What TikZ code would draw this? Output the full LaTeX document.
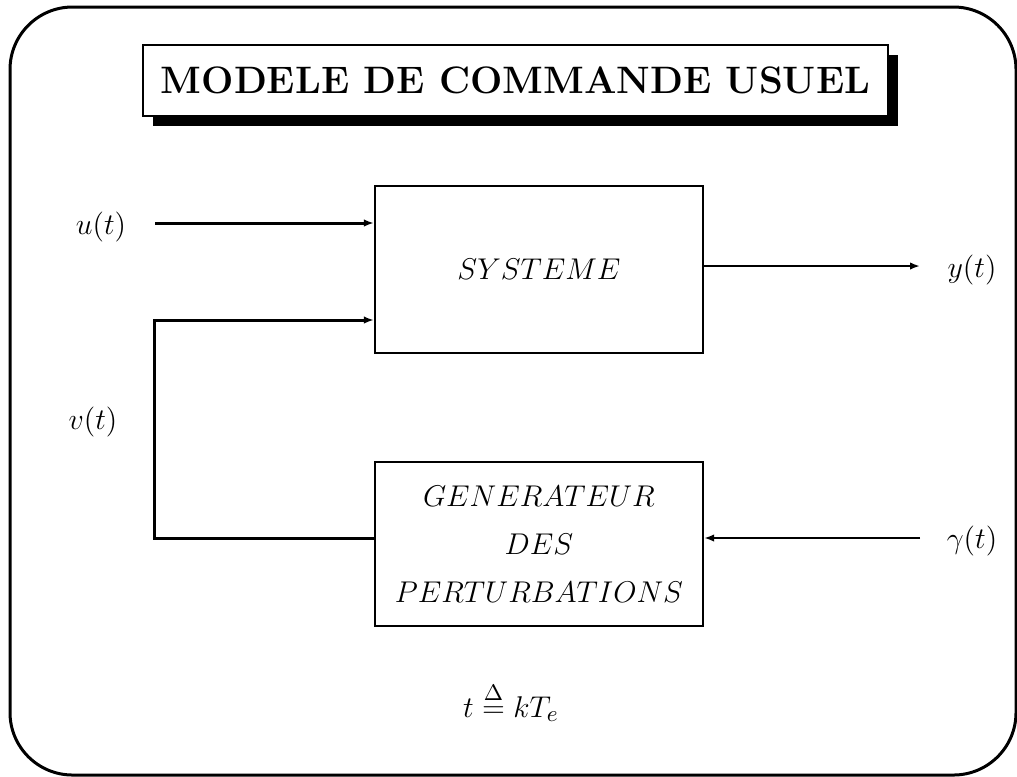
\documentclass[tikz,border=0pt]{standalone}
\usepackage{amsmath}
\usetikzlibrary{arrows.meta,shadows}
\begin{document}
\begin{tikzpicture}[x=0.4pt,y=-0.4pt,
  block/.style={draw,line width=0.9pt,minimum width=131.2pt,inner sep=0pt,
    font=\fontsize{12}{19.2}\selectfont,align=center},
  lbl/.style={inner sep=0pt,font=\fontsize{12.8}{14}\selectfont},
  sig/.style={line width=0.8pt,-{Latex[length=4pt,width=3pt]}},
  sigthick/.style={line width=1.2pt,-{Latex[length=4pt,width=3pt]}},
  plain/.style={line width=0.8pt}]
\useasboundingbox (0,0) rectangle (1017,776);
\clip (0,0) rectangle (1017,776);

% outer frame
\draw[line width=1.2pt,rounded corners=25pt] (10,7) rectangle (1016,775);

% title with black drop shadow
\node[draw,line width=0.9pt,fill=white,minimum width=298pt,minimum height=28.4pt,
  inner sep=0pt,font=\fontsize{15.3}{18}\selectfont\bfseries,
  general shadow={fill=black,shadow xshift=4pt,shadow yshift=-4pt}]
  (title) at (515.5,80.5) {MODELE DE COMMANDE USUEL};

% blocks
\node[block,minimum height=66.8pt,font=\fontsize{12.8}{19.2}\selectfont] (sys) at (539,269.5) {$SYSTEME$};
\node[block,minimum height=65.6pt] (gen) at (539,544)
  {$GENERATEUR$\\ $DES$\\ $PERTURBATIONS$};

% signal labels
\node[lbl] (u) at (101,227) {$u(t)$};
\node[lbl] (v) at (93,422) {$v(t)$};
\node[lbl] (y) at (972,270) {$y(t)$};
\node[lbl] (g) at (972,541) {$\gamma(t)$};
\node[lbl,anchor=base] (eq) at (511,717) {$t \stackrel{\Delta}{=} kT_e$};

% connector end points
\coordinate (uin) at (155,223);
\coordinate (vin) at (154,320);
\coordinate (vturn) at (154,538);
\coordinate (yrow) at (703,266);
\coordinate (yend) at (920,266);
\coordinate (gend) at (920,538);

% connectors
\draw[sigthick] (uin) -- (uin -| sys.west);
\draw[sigthick] (vturn -| gen.west) -- (vturn) |- (vin -| sys.west);
\draw[sig] (yrow -| sys.east) -- (yend);
\draw[sig] (gend) -- (gend -| gen.east);
\end{tikzpicture}
\end{document}
